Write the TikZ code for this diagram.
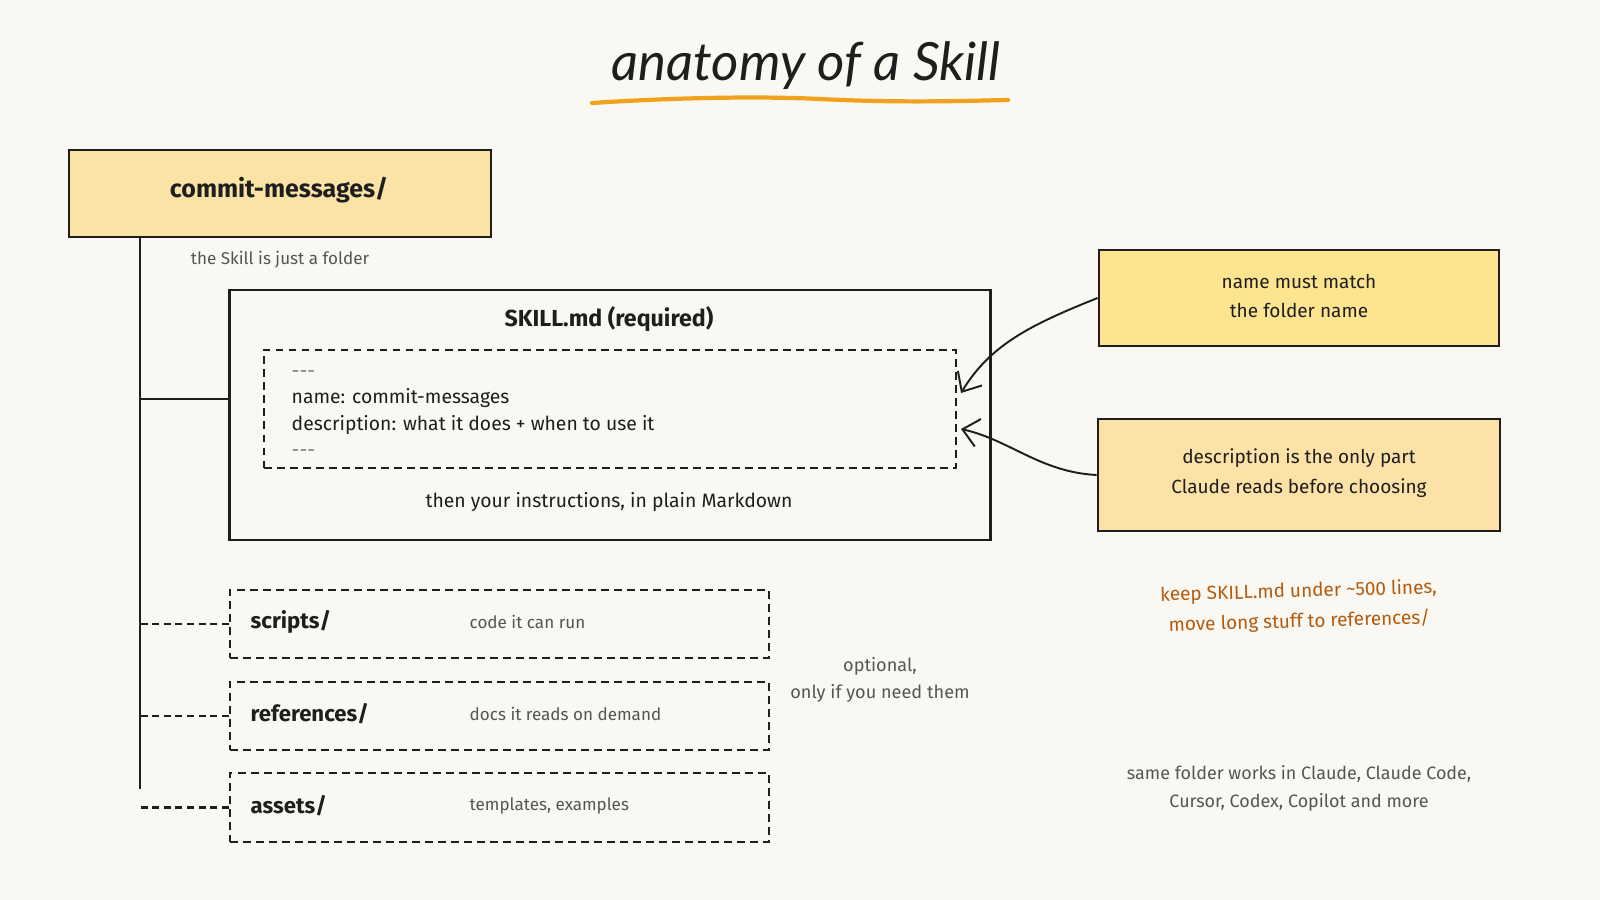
\documentclass[tikz,border=0pt]{standalone}
\usepackage{fontspec}
\setmainfont{Fira Sans}
\newfontfamily\titlefont{Lato}
\usetikzlibrary{arrows.meta}
\definecolor{bg}{HTML}{FAF8F2}
\definecolor{ink}{HTML}{1E1E1E}
\definecolor{grayt}{HTML}{555555}
\definecolor{dashgray}{HTML}{777777}
\definecolor{rootfill}{HTML}{FBE3A6}
\definecolor{notea}{HTML}{FCE58E}
\definecolor{noteb}{HTML}{FCE2A6}
\definecolor{orangeline}{HTML}{F0A21E}
\definecolor{orangetext}{HTML}{B45A0C}
\tikzset{
  solidbox/.style={draw=ink, line width=0.75pt, rectangle, inner sep=0pt},
  dashbox/.style={draw=ink, line width=0.6pt, dash pattern=on 2.2pt off 1.5pt, rectangle, inner sep=0pt},
  txt/.style={inner sep=0pt, text=ink},
  body/.style={txt, font=\fontsize{5.5}{7.5}\selectfont},
  small/.style={inner sep=0pt, text=grayt, font=\fontsize{4.85}{6.6}\selectfont},
  headbold/.style={txt, font=\fontsize{6.3}{7}\selectfont\bfseries},
  trunk/.style={draw=ink, line width=0.6pt},
  branchdash/.style={draw=ink, line width=0.6pt, dash pattern=on 2pt off 1.3pt},
  callout/.style={draw=ink, line width=0.55pt, -{Straight Barb[length=4.5pt,width=8pt,line width=0.55pt]}}
}
\begin{document}
\begin{tikzpicture}[x=0.01cm,y=-0.01cm]
\path[use as bounding box, fill=bg] (0,0) rectangle (1600,900);

% title
\node[txt, font=\titlefont\itshape\fontsize{15}{17}\selectfont] (title) at (806,66) {anatomy of a Skill};
\draw[orangeline, line width=1.2pt, line cap=round] (592,103) .. controls (700,96) and (780,97) .. (820,99) .. controls (900,103) and (960,101) .. (1008,100);

% root folder
\node[solidbox, fill=rootfill, minimum width=4.22cm, minimum height=0.87cm] (root) at (280,193.5) {};
\node[txt, font=\fontsize{7.1}{8}\selectfont\bfseries] (rootlabel) at (279,190) {commit-messages/};
\node[small] (rootnote) at (280,260) {the Skill is just a folder};

% trunk
\coordinate (trunktop) at (140,237);
\coordinate (trunkbot) at (140,789);
\draw[trunk] (trunktop) -- (trunkbot);

% SKILL.md box
\node[solidbox, minimum width=7.6cm, minimum height=2.5cm] (skill) at (610,415) {};
\node[txt, font=\fontsize{6.6}{7}\selectfont\bfseries] (skilltitle) at (609,319) {SKILL.md (required)};
\node[dashbox, minimum width=6.92cm, minimum height=1.18cm] (inner) at (610,409) {};
\node[body, anchor=west, align=left] (front) at (291,413.5) {{\color{dashgray}-{}-{}-}\\name: commit-messages\\description: what it does + when to use it\\{\color{dashgray}-{}-{}-}};
\node[body] (instr) at (609,502) {then your instructions, in plain Markdown};
\draw[trunk] ([yshift=0.16cm]skill.west) -- ([yshift=0.16cm]skill.west -| trunktop);

% optional folders
\node[dashbox, minimum width=5.39cm, minimum height=0.68cm] (scripts) at (499.5,624) {};
\node[dashbox, minimum width=5.39cm, minimum height=0.68cm] (refs) at (499.5,716) {};
\node[dashbox, minimum width=5.39cm, minimum height=0.69cm] (assets) at (499.5,807.5) {};
\node[headbold, anchor=west] (scriptslabel) at (250,622) {scripts/};
\node[headbold, anchor=west] (refslabel) at (250,714) {references/};
\node[headbold, anchor=west] (assetslabel) at (250,806) {assets/};
\node[small, anchor=west] (scriptsnote) at (469,622) {code it can run};
\node[small, anchor=west] (refsnote) at (469,714) {docs it reads on demand};
\node[small, anchor=west] (assetsnote) at (469,806) {templates, examples};
\draw[branchdash] (scripts.west) -- (scripts.west -| trunktop);
\draw[branchdash] (refs.west) -- (refs.west -| trunktop);
\draw[branchdash] (assets.west) -- (assets.west -| trunktop);
\node[small, align=center, font=\fontsize{5.15}{7.8}\selectfont] (optional) at (880,680) {optional,\\only if you need them};

% notes
\node[solidbox, fill=notea, minimum width=4.0cm, minimum height=0.96cm] (note1) at (1299,298) {};
\node[body, align=center, font=\fontsize{5.4}{8.4}\selectfont] (note1text) at (1299,296) {name must match\\the folder name};
\node[solidbox, fill=noteb, minimum width=4.02cm, minimum height=1.12cm] (note2) at (1299,475) {};
\node[body, align=center, font=\fontsize{5.4}{8.4}\selectfont] (note2text) at (1299,473) {description is the only part\\Claude reads before choosing};
\coordinate (tip1) at (961,393);
\coordinate (tip2) at (961,429);
\draw[callout] (note1.west) .. controls (1030,325) and (990,345) .. (tip1);
\draw[callout] (note2.west) .. controls (1040,472) and (1010,440) .. (tip2);

% side texts
\node[inner sep=0pt, text=orangetext, align=center, rotate=1.6, font=\fontsize{5.4}{8.6}\selectfont] (keep) at (1299,607) {keep SKILL.md under \textasciitilde500 lines,\\move long stuff to references/};
\node[small, align=center, font=\fontsize{5.1}{8}\selectfont] (same) at (1299,788) {same folder works in Claude, Claude Code,\\Cursor, Codex, Copilot and more};
\end{tikzpicture}
\end{document}
